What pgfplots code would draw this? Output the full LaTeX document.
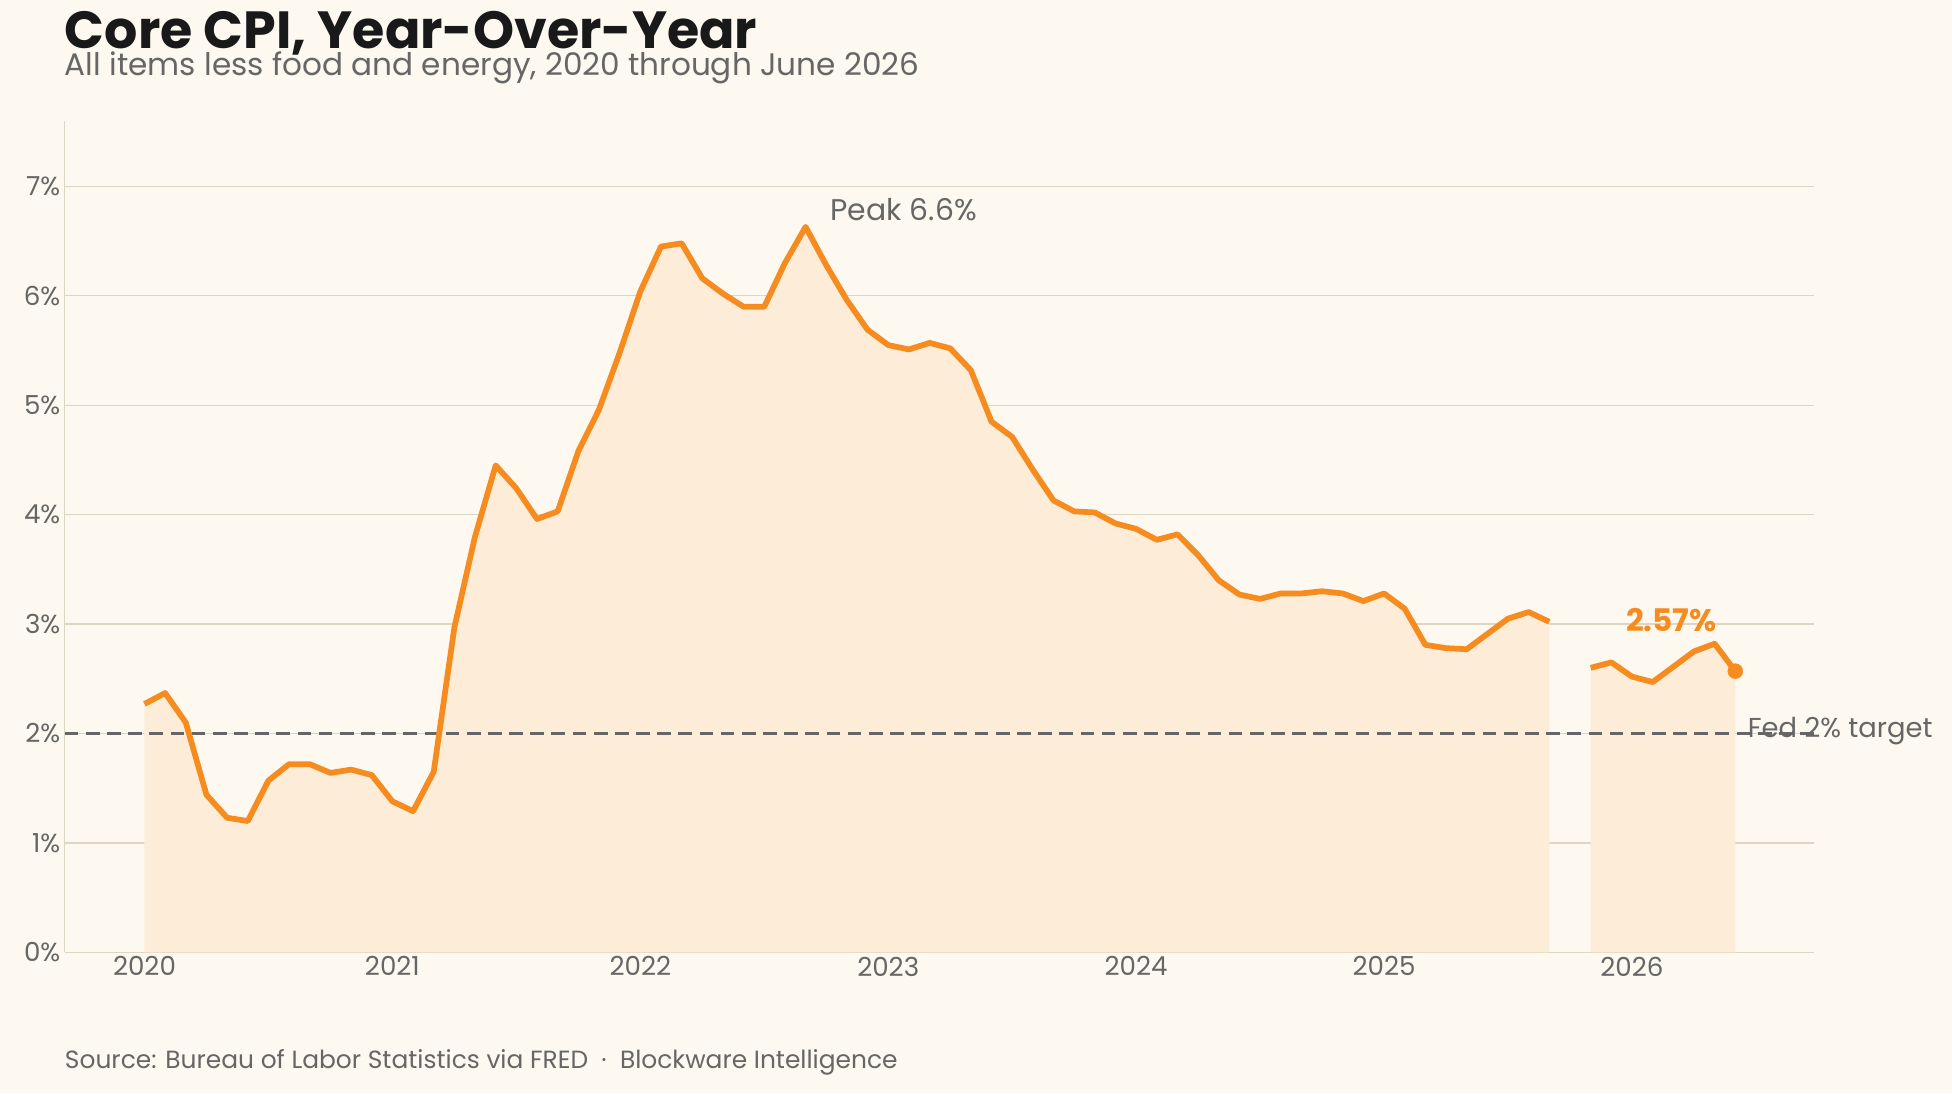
\documentclass[border=0pt]{standalone}
\usepackage{pgfplots}
\pgfplotsset{compat=1.18}
\usepackage{fontspec}
\setmainfont{Poppins}
\definecolor{bg}{HTML}{FDF9F0}
\definecolor{ln}{HTML}{F68B1F}
\definecolor{ar}{HTML}{FCECD8}
\definecolor{gr}{HTML}{DDD6C3}
\definecolor{tx}{HTML}{666666}
\begin{document}
\begin{tikzpicture}[x=1pt,y=1pt]
\fill[bg] (0,0) rectangle (1568,878);
\node[anchor=base west,font=\fontsize{42}{44}\selectfont\bfseries,text=black!90,inner sep=0] at (52,839) {Core CPI, Year-Over-Year};
\node[anchor=base west,font=\fontsize{25}{27}\selectfont,text=tx,inner sep=0] at (52,817) {All items less food and energy, 2020 through June 2026};
\node[anchor=base west,font=\fontsize{20}{22}\selectfont,text=tx,inner sep=0] at (52,20) {Source: Bureau of Labor Statistics via FRED\ \ ·\ \ Blockware Intelligence};
\begin{axis}[at={(52pt,113pt)},anchor=south west,scale only axis,width=1405pt,height=668pt,
 xmin=-3.86,xmax=80.8,ymin=0,ymax=7.6,
 axis lines*=left, axis line style={gr,line width=1pt},
 xtick={0,12,24,36,48,60,72},xticklabels={2020,2021,2022,2023,2024,2025,2026},
 ytick={0,1,...,7},yticklabel={\pgfmathprintnumber{\tick}\%},
 ymajorgrids, grid style={gr,line width=1pt},
 tick style={draw=none},
 ticklabel style={font=\fontsize{21}{23}\selectfont,text=tx},
 /pgf/number format/assume math mode=true,
 clip=false]
\addplot[fill=ar,draw=none] coordinates {(0,2.27)(1,2.37)(2,2.1)(3,1.44)(4,1.23)(5,1.2)(6,1.57)(7,1.72)(8,1.72)(9,1.64)(10,1.67)(11,1.62)(12,1.38)(13,1.29)(14,1.65)(15,2.97)(16,3.8)(17,4.45)(18,4.24)(19,3.96)(20,4.03)(21,4.58)(22,4.96)(23,5.48)(24,6.04)(25,6.45)(26,6.48)(27,6.16)(28,6.02)(29,5.9)(30,5.9)(31,6.3)(32,6.63)(33,6.28)(34,5.96)(35,5.69)(36,5.55)(37,5.51)(38,5.57)(39,5.52)(40,5.32)(41,4.85)(42,4.71)(43,4.41)(44,4.13)(45,4.03)(46,4.02)(47,3.92)(48,3.87)(49,3.77)(50,3.82)(51,3.63)(52,3.40)(53,3.27)(54,3.23)(55,3.28)(56,3.28)(57,3.3)(58,3.28)(59,3.21)(60,3.28)(61,3.14)(62,2.81)(63,2.78)(64,2.77)(65,2.91)(66,3.05)(67,3.11)(68,3.02)} \closedcycle;
\addplot[fill=ar,draw=none] coordinates {(70,2.6)(71,2.65)(72,2.52)(73,2.47)(74,2.61)(75,2.75)(76,2.82)(77,2.57)} \closedcycle;
\addplot[tx,line width=2pt,dash pattern=on 11pt off 6pt] coordinates {(-3.86,2)(80.8,2)};
\addplot[ln,line width=4.6pt,line join=round] coordinates {(0,2.27)(1,2.37)(2,2.1)(3,1.44)(4,1.23)(5,1.2)(6,1.57)(7,1.72)(8,1.72)(9,1.64)(10,1.67)(11,1.62)(12,1.38)(13,1.29)(14,1.65)(15,2.97)(16,3.8)(17,4.45)(18,4.24)(19,3.96)(20,4.03)(21,4.58)(22,4.96)(23,5.48)(24,6.04)(25,6.45)(26,6.48)(27,6.16)(28,6.02)(29,5.9)(30,5.9)(31,6.3)(32,6.63)(33,6.28)(34,5.96)(35,5.69)(36,5.55)(37,5.51)(38,5.57)(39,5.52)(40,5.32)(41,4.85)(42,4.71)(43,4.41)(44,4.13)(45,4.03)(46,4.02)(47,3.92)(48,3.87)(49,3.77)(50,3.82)(51,3.63)(52,3.40)(53,3.27)(54,3.23)(55,3.28)(56,3.28)(57,3.3)(58,3.28)(59,3.21)(60,3.28)(61,3.14)(62,2.81)(63,2.78)(64,2.77)(65,2.91)(66,3.05)(67,3.11)(68,3.02)};
\addplot[ln,line width=4.6pt,line join=round] coordinates {(70,2.6)(71,2.65)(72,2.52)(73,2.47)(74,2.61)(75,2.75)(76,2.82)(77,2.57)};
\addplot[only marks,mark=*,mark size=6pt,color=ln] coordinates {(77,2.57)};
\node[anchor=west,font=\fontsize{24}{26}\selectfont,text=tx,inner sep=0] at (axis cs:33.2,6.79) {Peak 6.6\%};
\node[font=\fontsize{25}{27}\selectfont\bfseries,text=ln,inner sep=0] at (axis cs:73.9,3.04) {2.57\%};
\node[anchor=west,font=\fontsize{22}{24}\selectfont,text=tx,inner sep=0] at (axis cs:77.6,2.02) {Fed 2\% target};
\end{axis}
\end{tikzpicture}
\end{document}
